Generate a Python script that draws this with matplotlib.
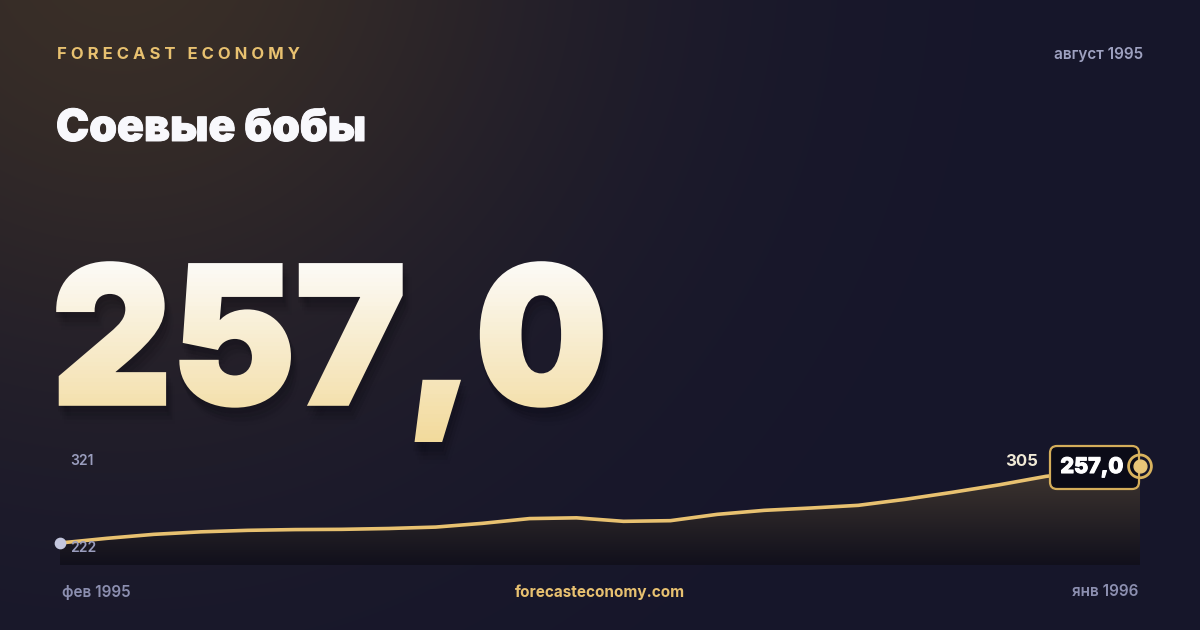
import numpy as np
import matplotlib
matplotlib.use("Agg")
import matplotlib.pyplot as plt
import matplotlib.patheffects as pe
from matplotlib.textpath import TextPath
from matplotlib.font_manager import FontProperties
from matplotlib.patches import PathPatch, Polygon, FancyBboxPatch, Rectangle
from matplotlib.transforms import Affine2D

# ---------------- данные ----------------
brand = "FORECAST ECONOMY"
title = "Соевые бобы"
period_label = "август 1995"
big_value = "257,0"
start_label = "фев 1995"
end_label = "янв 1996"
site = "forecasteconomy.com"
axis_max_label = "321"
axis_min_label = "222"
peak_label = "305"
last_label = "257,0"

# цена (фев 1995 -> янв 1996)
values = [222.0, 227.6, 232.4, 235.4, 237.2, 238.1, 238.4, 239.4, 241.1, 245.6,
          251.3, 252.2, 248.0, 248.8, 256.4, 261.2, 264.0, 267.2, 274.4, 282.8,
          291.8, 302.0, 308.0, 314.0]

GOLD = "#e8c170"
FONT = ["Inter", "DejaVu Sans"]
plt.rcParams["font.family"] = FONT

W, H = 1200, 630
fig = plt.figure(figsize=(12, 6.3), dpi=100)

# ---------------- фон ----------------
bg = fig.add_axes([0, 0, 1, 1])
bg.set_xlim(0, W)
bg.set_ylim(H, 0)
bg.axis("off")

yy, xx = np.mgrid[0:H, 0:W]
base = np.array([22, 22, 43], dtype=float)
glow = np.array([36, 25, 4], dtype=float)
d2 = (xx - 120.0) ** 2 + (yy + 60.0) ** 2
k = np.exp(-d2 / (2 * 320.0 ** 2))
img = base[None, None, :] + glow[None, None, :] * k[:, :, None]
img[:, :, 2] -= 8 * k
bg.imshow(np.clip(img, 0, 255).astype(np.uint8), extent=(0, W, H, 0), zorder=0)

# ---------------- шапка ----------------
bg.text(57, 59, brand.replace(" ", "  ").replace("", " ").strip().replace("    ", "  "),
        color=GOLD, fontsize=12, fontweight="bold", va="baseline", ha="left")
bg.text(1143, 55, period_label, color="#9ea1c0", fontsize=11, fontweight="semibold",
        va="center", ha="right")
bg.text(56, 141, title, color="#f8f8fc", fontsize=32, fontweight="black",
        va="baseline", ha="left",
        path_effects=[pe.withStroke(linewidth=0.7, foreground="#f8f8fc")])

# ---------------- большое число ----------------
fp = FontProperties(family=FONT, weight="black")
tp = TextPath((0, 0), big_value, size=100, prop=fp)
cap = TextPath((0, 0), "2", size=100, prop=fp).get_extents()
ext = tp.get_extents()
sy = (404 - 263) / cap.y1
sx = (601 - 58) / ext.width


def place(dx=0.0, dy=0.0):
    return (Affine2D().translate(-ext.x0, 0).scale(sx, -sy)
            .translate(58 + dx, 404 + dy) + bg.transData)


for dx, dy, a in [(1, 4, 0.08), (3, 8, 0.06), (5, 12, 0.045), (7, 16, 0.03)]:
    bg.add_patch(PathPatch(tp, transform=place(dx, dy), facecolor="#05050c",
                           edgecolor="#05050c", lw=5, alpha=a, zorder=2))

top_c = np.array([252, 251, 248]) / 255
bot_c = np.array([242, 218, 156]) / 255
y_a, y_b, nb = 258, 442, 46
edges = np.linspace(y_a, y_b, nb + 1)
for i in range(nb):
    t = i / (nb - 1)
    c = top_c * (1 - t) + bot_c * t
    p = PathPatch(tp, transform=place(), facecolor=c, edgecolor=c, lw=2.6, zorder=3)
    bg.add_patch(p)
    clip = Rectangle((40, edges[i] - 0.3), 600, edges[i + 1] - edges[i] + 0.6,
                     transform=bg.transData, facecolor="none", edgecolor="none")
    p.set_clip_path(clip)

# ---------------- мини-график ----------------
x0, x1, ytop, ybot = 60, 1140, 445, 565
ax = fig.add_axes([x0 / W, 1 - ybot / H, (x1 - x0) / W, (ybot - ytop) / H])
ax.axis("off")
x = np.arange(len(values))
ylo, yhi = 195.6, 339.6
ax.set_xlim(0, len(values) - 1)
ax.set_ylim(ylo, yhi)

poly = Polygon(np.column_stack([np.r_[x, x[-1], x[0]], np.r_[values, ylo, ylo]]),
               closed=True, facecolor="none", edgecolor="none")
ax.add_patch(poly)
g = np.linspace(0, 1, 256)[:, None]
c_top = np.array([74, 63, 53]) / 255
c_bot = np.array([17, 16, 28]) / 255
fimg = c_top[None, None, :] * (1 - g[:, :, None]) + c_bot[None, None, :] * g[:, :, None]
fimg = np.repeat(fimg, 2, axis=1)
fi = ax.imshow(fimg, extent=(0, len(values) - 1, ylo, yhi), aspect="auto", zorder=1)
fi.set_clip_path(poly)

ax.plot(x, values, color=GOLD, lw=2.6, solid_capstyle="round", zorder=3, clip_on=False)
ax.scatter([x[0]], [values[0]], s=55, color="#c4c7de", zorder=5, clip_on=False)

# плашка с последним значением (поверх линии, под маркером)
box = FancyBboxPatch((1050, 446), 89, 43, boxstyle="round,pad=0,rounding_size=7",
                     transform=bg.transData, facecolor="#0b0b17", edgecolor="#d4ad5a",
                     lw=1.6, zorder=4, clip_on=False)
ax.add_patch(box)
ax.text(1092, 467, last_label, transform=bg.transData, color="white", fontsize=15.5,
        fontweight="heavy", va="center", ha="center", zorder=4.5, clip_on=False,
        path_effects=[pe.withStroke(linewidth=0.8, foreground="white")])

ax.scatter([x[-1]], [values[-1]], s=270, facecolor="none", edgecolor="#d9b35e",
           lw=2, zorder=6, clip_on=False)
ax.scatter([x[-1]], [values[-1]], s=85, color="#e8c578", zorder=7, clip_on=False)

# подписи шкалы (поверх заливки)
ax.text(70, 461, axis_max_label, transform=bg.transData, color="#9a9dbd", fontsize=10,
        fontweight="semibold", va="center", ha="left", zorder=8, clip_on=False)
ax.text(70, 548, axis_min_label, transform=bg.transData, color="#9a9dbd", fontsize=10,
        fontweight="semibold", va="center", ha="left", zorder=8, clip_on=False)
ax.text(1038, 462, peak_label, transform=bg.transData, color="#f0e9d6", fontsize=12,
        fontweight="bold", va="center", ha="right", zorder=8, clip_on=False)

# нижняя строка
bg.text(62, 592, start_label, color="#8c8fb0", fontsize=11, fontweight="semibold",
        va="center", ha="left")
bg.text(1138, 592, end_label, color="#8c8fb0", fontsize=11, fontweight="semibold",
        va="center", ha="right")
bg.text(600, 592, site, color=GOLD, fontsize=11, fontweight="bold",
        va="center", ha="center")

ax.set_zorder(bg.get_zorder() + 1)
ax.patch.set_visible(False)

fig.savefig("out.png", dpi=100)
